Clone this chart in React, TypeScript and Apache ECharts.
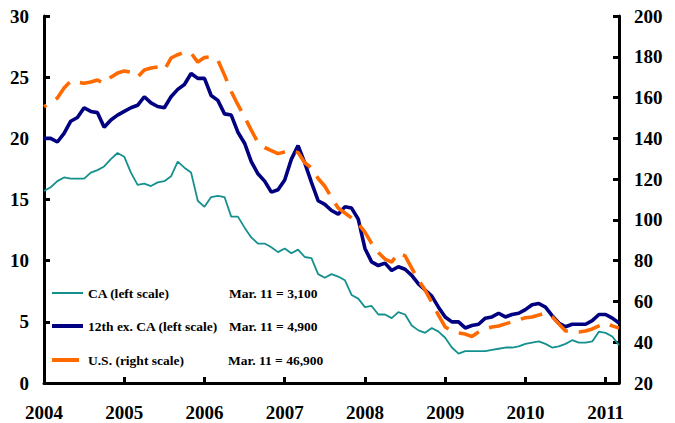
import React, { useEffect, useRef } from "react";
import * as echarts from "echarts";

const years = ["2004", "2005", "2006", "2007", "2008", "2009", "2010", "2011"];
const monthCount = 87; // Jan 2004 .. Mar 2011

const caValues = [
  15.7, 16.0, 16.5, 16.8, 16.7, 16.7, 16.7, 17.2, 17.4, 17.7, 18.3, 18.8,
  18.5, 17.2, 16.2, 16.3, 16.1, 16.4, 16.5, 16.9, 18.1, 17.6, 17.2, 14.9,
  14.4, 15.2, 15.3, 15.2, 13.6, 13.6, 12.7, 11.9, 11.4, 11.4, 11.1, 10.7,
  11.0, 10.6, 10.9, 10.3, 10.2, 8.9, 8.6, 8.9, 8.7, 8.4, 7.2, 6.9,
  6.2, 6.3, 5.6, 5.6, 5.3, 5.8, 5.6, 4.7, 4.3, 4.1, 4.5, 4.2,
  3.7, 2.9, 2.4, 2.6, 2.6, 2.6, 2.6, 2.7, 2.8, 2.9, 2.9, 3.0,
  3.2, 3.3, 3.4, 3.2, 2.9, 3.0, 3.2, 3.5, 3.3, 3.3, 3.4, 4.2,
  4.1, 3.8, 3.1,
];

const twelfthExCaValues = [
  20.0, 20.0, 19.7, 20.4, 21.4, 21.7, 22.5, 22.2, 22.1, 20.9, 21.5, 21.9,
  22.2, 22.5, 22.7, 23.4, 22.9, 22.6, 22.5, 23.4, 24.0, 24.4, 25.3, 24.9,
  24.9, 23.5, 23.1, 22.0, 21.9, 20.5, 19.6, 18.1, 17.1, 16.5, 15.6, 15.8,
  16.6, 18.3, 19.4, 18.0, 16.4, 14.9, 14.6, 14.1, 13.8, 14.4, 14.3, 13.4,
  11.0, 9.9, 9.6, 9.8, 9.2, 9.5, 9.3, 8.8, 8.1, 7.6, 7.1, 6.2,
  5.4, 5.0, 5.0, 4.5, 4.7, 4.8, 5.3, 5.4, 5.7, 5.4, 5.6, 5.7,
  6.0, 6.4, 6.5, 6.2, 5.5, 4.9, 4.6, 4.8, 4.8, 4.8, 5.1, 5.6,
  5.6, 5.3, 4.9,
];

const usValues = [
  155.5, 157.5, 159.8, 164.7, 168.1, 167.5, 167.0, 167.6, 168.6, 167.0, 170.0, 172.0,
  173.0, 172.5, 170.0, 173.5, 174.5, 175.0, 173.5, 179.4, 181.0, 182.3, 181.8, 177.4,
  179.6, 180.0, 178.4, 171.0, 163.0, 156.5, 150.5, 144.0, 138.0, 135.5, 134.0, 132.5,
  133.3, 134.0, 133.0, 128.0, 125.5, 120.3, 116.5, 111.0, 105.8, 103.4, 101.0, 98.0,
  94.0, 88.5, 84.0, 80.8, 79.3, 83.8, 82.3, 76.4, 70.5, 65.6, 59.5, 53.3,
  47.5, 45.5, 44.5, 44.0, 42.8, 45.0, 46.5, 47.5, 48.0, 49.0, 50.0, 51.0,
  52.0, 52.4, 53.3, 54.3, 52.5, 49.0, 45.5, 45.5, 45.0, 45.5, 46.5, 48.0,
  49.4, 48.0, 46.9,
];

const seriesNames = ["CA (left scale)", "12th ex. CA (left scale)", "U.S. (right scale)"];
const latestNotes = ["Mar. 11 = 3,100", "Mar. 11 = 4,900", "Mar. 11 = 46,900"];
const seriesColors = ["#14918E", "#000080", "#FF6A00"];

const categories: string[] = [];
for (let i = 0; i < monthCount; i++) {
  const y = years[Math.floor(i / 12)];
  const m = (i % 12) + 1;
  categories.push(y + "-" + (m < 10 ? "0" + m : String(m)));
}

const FONT = "'Liberation Serif', 'Times New Roman', serif";

export default function App() {
  const ref = useRef<HTMLDivElement>(null);
  useEffect(() => {
    if (!ref.current) return;
    const chart = echarts.init(ref.current, undefined, { renderer: "svg" });
    const axisLabelStyle = {
      fontFamily: FONT,
      fontWeight: "bold" as const,
      fontSize: 19,
      color: "#000",
    };
    const legendRows = [293, 326, 360];
    const legendWidths = [2, 4, 4];
    const legendEnds = [83, 83, 79];
    const noteX = [229, 229, 228];
    const graphic: any[] = [];
    seriesNames.forEach((name, i) => {
      graphic.push({
        type: "line",
        shape: { x1: 52, y1: legendRows[i], x2: legendEnds[i], y2: legendRows[i] },
        style: { stroke: seriesColors[i], lineWidth: legendWidths[i] },
      });
      graphic.push({
        type: "text",
        x: 88,
        y: legendRows[i],
        style: {
          text: name,
          fontFamily: FONT,
          fontWeight: "bold",
          fontSize: 13.5,
          fill: "#000",
          verticalAlign: "middle",
        },
      });
      graphic.push({
        type: "text",
        x: noteX[i],
        y: legendRows[i],
        style: {
          text: latestNotes[i],
          fontFamily: FONT,
          fontWeight: "bold",
          fontSize: 13.5,
          fill: "#000",
          verticalAlign: "middle",
        },
      });
    });

    chart.setOption({
      animation: false,
      backgroundColor: "#fff",
      grid: { left: 44, right: 56, top: 16, bottom: 40, containLabel: false },
      xAxis: {
        type: "category",
        data: categories,
        boundaryGap: false,
        axisLine: { show: true, onZero: false, lineStyle: { color: "#000", width: 3 } },
        axisTick: {
          show: true,
          inside: true,
          length: 6,
          interval: (i: number) => i % 12 === 0,
          lineStyle: { color: "#000", width: 3 },
        },
        axisLabel: {
          ...axisLabelStyle,
          margin: 20,
          interval: (i: number) => i % 12 === 0,
          formatter: (v: string) => v.slice(0, 4),
        },
        splitLine: { show: false },
      },
      yAxis: [
        {
          type: "value",
          min: 0,
          max: 30,
          interval: 5,
          position: "left",
          axisLine: { show: true, lineStyle: { color: "#000", width: 3 } },
          axisTick: { show: true, inside: true, length: 6, lineStyle: { color: "#000", width: 3 } },
          axisLabel: { ...axisLabelStyle, margin: 15 },
          splitLine: { show: false },
        },
        {
          type: "value",
          min: 20,
          max: 200,
          interval: 20,
          position: "right",
          axisLine: { show: true, lineStyle: { color: "#000", width: 3 } },
          axisTick: { show: true, inside: true, length: 6, lineStyle: { color: "#000", width: 3 } },
          axisLabel: { ...axisLabelStyle, margin: 15 },
          splitLine: { show: false },
        },
      ],
      series: [
        {
          name: seriesNames[0],
          type: "line",
          yAxisIndex: 0,
          data: caValues,
          showSymbol: false,
          symbol: "none",
          lineStyle: { color: seriesColors[0], width: 1.8 },
          z: 3,
        },
        {
          name: seriesNames[1],
          type: "line",
          yAxisIndex: 0,
          data: twelfthExCaValues,
          showSymbol: false,
          symbol: "none",
          lineStyle: { color: seriesColors[1], width: 3.6 },
          z: 4,
        },
        {
          name: seriesNames[2],
          type: "line",
          yAxisIndex: 1,
          data: usValues,
          showSymbol: false,
          symbol: "none",
          lineStyle: {
            color: seriesColors[2],
            width: 3.6,
            type: [22, 11],
            dashOffset: 19,
            cap: "butt",
          },
          z: 5,
        },
      ],
      graphic,
    });
    return () => chart.dispose();
  }, []);
  return (
    <div
      ref={ref}
      style={{ position: "fixed", left: 0, top: 0, width: 675, height: 423, background: "#fff" }}
    />
  );
}
